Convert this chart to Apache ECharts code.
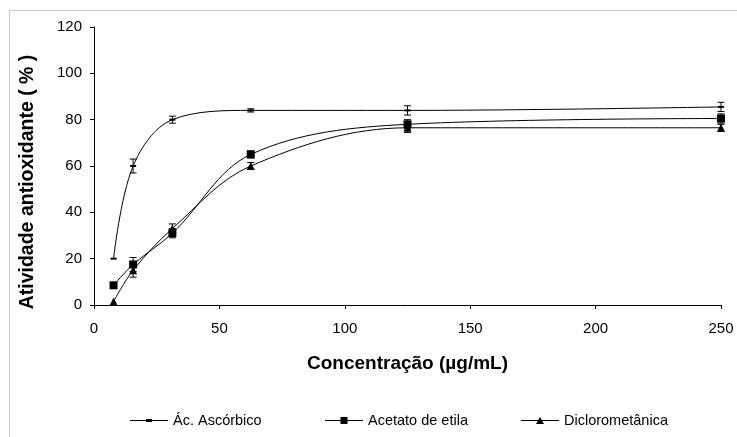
<!DOCTYPE html>
<html><head><meta charset="utf-8">
<script src="https://cdn.jsdelivr.net/npm/echarts@6/dist/echarts.min.js"></script>
<style>html,body{margin:0;padding:0;background:#fff}#c{width:737px;height:437px}</style>
</head><body><div id="c"></div>
<script>
var concentrations = [7.8, 15.6, 31.25, 62.5, 125, 250];
var ascorbico = [20, 60, 80, 84, 84, 85.5];
var ascorbicoErr = [0, 3, 1.5, 0.7, 2, 2];
var acetato = [8.5, 17.5, 31, 65, 78, 80.5];
var acetatoErr = [0, 3, 2, 1.5, 2, 2];
var dicloro = [1.5, 15, 33, 60, 76.5, 76.5];
var dicloroErr = [0, 3, 2, 1.5, 2, 1.5];
var seriesNames = ['Ác. Ascórbico', 'Acetato de etila', 'Diclorometânica'];
var xTitle = 'Concentração (µg/mL)';
var yTitle = 'Atividade antioxidante ( % )';

function pairs(vals){ return concentrations.map(function(x,i){ return [x, vals[i]]; }); }
function errData(vals, errs){ return concentrations.map(function(x,i){ return [x, vals[i]-errs[i], vals[i]+errs[i]]; }); }
function errSeries(vals, errs){
  return {
    type: 'custom', silent: true, z: 5,
    data: errData(vals, errs),
    renderItem: function(params, api){
      var lo = api.coord([api.value(0), api.value(1)]);
      var hi = api.coord([api.value(0), api.value(2)]);
      if (Math.abs(lo[1]-hi[1]) < 0.5) return null;
      var w = 3.5;
      var st = {stroke:'#000', lineWidth:1};
      return {type:'group', children:[
        {type:'line', shape:{x1:lo[0],y1:lo[1],x2:hi[0],y2:hi[1]}, style:st},
        {type:'line', shape:{x1:lo[0]-w,y1:lo[1],x2:lo[0]+w,y2:lo[1]}, style:st},
        {type:'line', shape:{x1:hi[0]-w,y1:hi[1],x2:hi[0]+w,y2:hi[1]}, style:st}
      ]};
    }
  };
}
var font = 'Liberation Sans, Arial, sans-serif';
var icons = [
  'path://M0,0M0,10M0,4.5H38V5.5H0Z M16,3.5H22V6.5H16Z',
  'path://M0,0M0,10M0,4.5H38V5.5H0Z M15.5,1.5H22.5V8.5H15.5Z',
  'path://M0,0M0,10M0,4.5H38V5.5H0Z M19,1.5L23,8.5H15Z'
];
var chart = echarts.init(document.getElementById('c'), null, {renderer:'canvas'});
var legendBase = {top: 408, itemWidth: 38, itemHeight: 10, itemGap: 5,
  itemStyle:{color:'#000'},
  textStyle:{fontFamily:font, fontSize:14.5, color:'#000'}};
var lefts = [125, 320, 516];
chart.setOption({
  animation: false,
  backgroundColor: '#fff',
  graphic: [
    {type:'rect', shape:{x:9.5, y:10.5, width:740, height:440}, style:{fill:'none', stroke:'#c8c8c8', lineWidth:1}, silent:true},
    {type:'text', x:28, y:182, rotation: Math.PI/2, silent:true,
     style:{text: yTitle, align:'center', verticalAlign:'middle', fontFamily:font, fontSize:19.5, fontWeight:'bold', fill:'#000'}}
  ],
  grid: {left: 94, right: 16, top: 27, bottom: 132},
  legend: seriesNames.map(function(n, i){
    return Object.assign({}, legendBase, {left: lefts[i], data:[{name:n, icon: icons[i]}]});
  }),
  xAxis: {
    type:'value', min:0, max:250, interval:50,
    name: xTitle, nameLocation:'middle', nameGap: 49,
    nameTextStyle:{fontFamily:font, fontSize:19, fontWeight:'bold', color:'#000'},
    axisLine:{lineStyle:{color:'#000', width:1}},
    axisTick:{show:true, inside:false, length:4, lineStyle:{color:'#000'}},
    axisLabel:{fontFamily:font, fontSize:15, color:'#000', margin:16},
    splitLine:{show:false}
  },
  yAxis: {
    type:'value', min:0, max:120, interval:20,
    axisLine:{show:true, lineStyle:{color:'#000', width:1}},
    axisTick:{show:true, inside:false, length:4, lineStyle:{color:'#000'}},
    axisLabel:{fontFamily:font, fontSize:15, color:'#000', margin:12},
    splitLine:{show:false}
  },
  series: [
    {name: seriesNames[0], type:'line', data: pairs(ascorbico), smooth:0.35,
     symbol:'rect', symbolSize:[6,2], showAllSymbol:true,
     lineStyle:{color:'#000', width:1}, itemStyle:{color:'#000'}, z:3},
    {name: seriesNames[1], type:'line', data: pairs(acetato), smooth:0.35,
     symbol:'rect', symbolSize:8,
     lineStyle:{color:'#000', width:1}, itemStyle:{color:'#000'}, z:3},
    {name: seriesNames[2], type:'line', data: pairs(dicloro), smooth:0.35,
     symbol:'triangle', symbolSize:8,
     lineStyle:{color:'#000', width:1}, itemStyle:{color:'#000'}, z:3},
    errSeries(ascorbico, ascorbicoErr),
    errSeries(acetato, acetatoErr),
    errSeries(dicloro, dicloroErr)
  ]
});
</script></body></html>
